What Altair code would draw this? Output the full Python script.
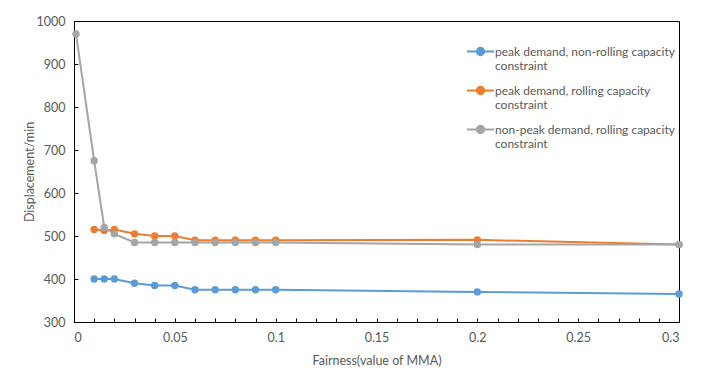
import altair as alt
import pandas as pd

series_names = [
    "peak demand, non-rolling capacity|constraint",
    "peak demand, rolling capacity|constraint",
    "non-peak demand, rolling capacity|constraint",
]
colors = ["#5B9BD5", "#ED7D31", "#A5A5A5"]

blue_x = [0.01, 0.015, 0.02, 0.03, 0.04, 0.05, 0.06, 0.07, 0.08, 0.09, 0.1, 0.2, 0.3]
blue_y = [400, 400, 400, 390, 385, 385, 375, 375, 375, 375, 375, 370, 365]

orange_x = [0.01, 0.015, 0.02, 0.03, 0.04, 0.05, 0.06, 0.07, 0.08, 0.09, 0.1, 0.2, 0.3]
orange_y = [515, 513, 515, 505, 500, 500, 490, 490, 490, 490, 490, 491, 480]

gray_x = [0.001, 0.01, 0.015, 0.02, 0.03, 0.04, 0.05, 0.06, 0.07, 0.08, 0.09, 0.1, 0.2, 0.3]
gray_y = [970, 675, 520, 505, 485, 485, 485, 485, 485, 485, 485, 485, 480, 480]

x_ticks = [round(i * 0.01, 2) for i in range(31)]
y_ticks = [300, 400, 500, 600, 700, 800, 900, 1000]

rows = []
for name, xs, ys in zip(series_names, [blue_x, orange_x, gray_x], [blue_y, orange_y, gray_y]):
    for i, (x, y) in enumerate(zip(xs, ys)):
        rows.append({"series": name, "x": x, "y": y, "order": i})
df = pd.DataFrame(rows)

font = "Lato"
fsize = 12.5
legend_path = "M-1,0L1,0M-0.27,0A0.27,0.27 0 1,1 0.27,0A0.27,0.27 0 1,1 -0.27,0Z"

chart = alt.Chart(df).mark_line(
    strokeWidth=2,
    point=alt.OverlayMarkDef(filled=True, size=55),
).encode(
    x=alt.X(
        "x:Q",
        scale=alt.Scale(domain=[0, 0.3], nice=False, zero=False),
        axis=alt.Axis(
            values=x_ticks,
            title="Fairness(value of MMA)",
            labelExpr="round(datum.value*100) % 5 == 0 ? toString(round(datum.value*100)/100) : ''",
            tickSize={"expr": "-4"},
            labelPadding=13,
            grid=False,
            titlePadding=11,
        ),
    ),
    y=alt.Y(
        "y:Q",
        scale=alt.Scale(domain=[300, 1000], nice=False, zero=False),
        axis=alt.Axis(
            values=y_ticks,
            format="d",
            title="Displacement/min",
            tickSize={"expr": "-4"},
            labelPadding=13,
            grid=False,
            titlePadding=0,
        ),
    ),
    color=alt.Color(
        "series:N",
        scale=alt.Scale(domain=series_names, range=colors),
        legend=alt.Legend(
            title=None,
            orient="none",
            legendX=392,
            legendY=16,
            symbolType=legend_path,
            symbolSize=729,
            symbolStrokeWidth=2,
            labelExpr="split(datum.label, '|')",
            labelFont=font,
            labelFontSize=12,
            labelColor="#595959",
            labelLimit=300,
            labelOffset=0,
            rowPadding=4,
        ),
    ),
    order="order:Q",
).properties(
    width=605,
    height=301,
    padding={"left": 66, "top": 13, "right": 28, "bottom": 50},
    autosize=alt.AutoSizeParams(type="none"),
).configure_view(
    stroke="#000000",
    strokeWidth=1,
).configure_axis(
    domainColor="#000000",
    tickColor="#000000",
    labelColor="#595959",
    titleColor="#595959",
    labelFont=font,
    titleFont=font,
    labelFontSize=fsize,
    titleFontSize=fsize,
    titleFontWeight="normal",
)

chart.save("out.html", embed_options={"renderer": "svg", "actions": False})
